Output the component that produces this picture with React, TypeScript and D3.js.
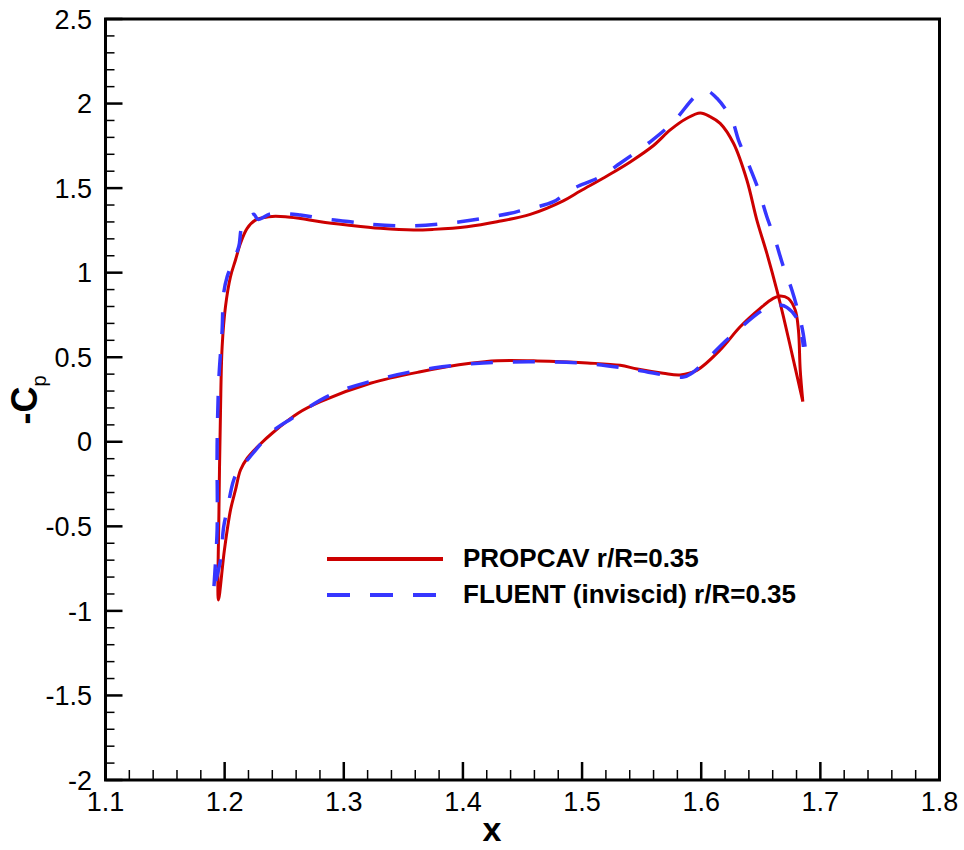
import React from "react";
import * as d3 from "d3";

// Axis ticks
const xTicks = [1.1, 1.2, 1.3, 1.4, 1.5, 1.6, 1.7, 1.8];
const yTicks = [-2, -1.5, -1, -0.5, 0, 0.5, 1, 1.5, 2, 2.5];

// PROPCAV r/R=0.35 (upper: TE -> LE, lower: LE -> TE)
const propcavUpperX = [1.6853, 1.6774, 1.669, 1.6635, 1.6551, 1.6467, 1.6383, 1.6271, 1.6159, 1.6076, 1.5992, 1.588, 1.574, 1.56, 1.5404, 1.5209, 1.4985, 1.4842, 1.4565, 1.4286, 1.4034, 1.3754, 1.3586, 1.3307, 1.3028, 1.2804, 1.2636, 1.251, 1.237, 1.2258, 1.2189, 1.2133, 1.2091, 1.2049, 1.2007, 1.1979, 1.1965, 1.1952, 1.1948];
const propcavUpperY = [0.237, 0.483, 0.74, 0.897, 1.114, 1.311, 1.548, 1.765, 1.883, 1.922, 1.944, 1.913, 1.844, 1.752, 1.655, 1.572, 1.483, 1.425, 1.345, 1.301, 1.272, 1.256, 1.252, 1.262, 1.282, 1.301, 1.32, 1.331, 1.331, 1.311, 1.262, 1.174, 1.075, 0.976, 0.799, 0.562, 0.17, -0.421, -0.936];
const propcavLowerX = [1.1998, 1.2049, 1.2091, 1.2133, 1.2191, 1.23, 1.2401, 1.2619, 1.2804, 1.3223, 1.3643, 1.4062, 1.4289, 1.4624, 1.5044, 1.532, 1.5463, 1.5681, 1.5824, 1.5966, 1.6159, 1.6327, 1.6495, 1.6604, 1.6663, 1.673, 1.6789, 1.6816, 1.6831, 1.6853];
const propcavLowerY = [-0.64, -0.404, -0.285, -0.167, -0.096, -0.013, 0.052, 0.17, 0.237, 0.346, 0.414, 0.464, 0.479, 0.478, 0.466, 0.452, 0.43, 0.405, 0.395, 0.424, 0.543, 0.68, 0.789, 0.848, 0.862, 0.848, 0.779, 0.661, 0.424, 0.237];

// FLUENT (inviscid) r/R=0.35
const fluentUpperX = [1.6872, 1.6845, 1.6761, 1.669, 1.6621, 1.6551, 1.6481, 1.6411, 1.6313, 1.6258, 1.6132, 1.6048, 1.5964, 1.5768, 1.5572, 1.532, 1.5153, 1.4901, 1.4761, 1.4482, 1.4398, 1.3978, 1.3559, 1.3223, 1.3055, 1.2804, 1.2636, 1.2384, 1.228, 1.2244, 1.2147, 1.2118, 1.2021, 1.1992, 1.1979, 1.1951, 1.1937, 1.1937, 1.1909];
const fluentUpperY = [0.562, 0.68, 0.897, 1.035, 1.193, 1.331, 1.489, 1.617, 1.784, 1.903, 2.031, 2.074, 2.051, 1.893, 1.774, 1.647, 1.567, 1.489, 1.42, 1.366, 1.351, 1.301, 1.276, 1.286, 1.301, 1.321, 1.341, 1.347, 1.315, 1.345, 1.272, 1.153, 0.976, 0.878, 0.661, 0.365, -0.029, -0.522, -0.896];
const fluentLowerX = [1.1923, 1.1965, 1.1992, 1.2021, 1.2076, 1.2118, 1.2202, 1.2398, 1.2566, 1.2888, 1.3332, 1.3752, 1.4171, 1.4591, 1.501, 1.543, 1.5849, 1.5924, 1.6243, 1.6565, 1.6663, 1.6719, 1.6803, 1.6845, 1.6858];
const fluentLowerY = [-0.835, -0.699, -0.502, -0.404, -0.226, -0.167, -0.098, 0.059, 0.139, 0.277, 0.377, 0.436, 0.466, 0.473, 0.464, 0.428, 0.383, 0.407, 0.621, 0.799, 0.809, 0.795, 0.73, 0.621, 0.562];

const seriesNames = ["PROPCAV r/R=0.35", "FLUENT (inviscid) r/R=0.35"];
const RED = "#cc0000";
const BLUE = "#3636ff";
const FONT = "'Liberation Sans', Arial, Helvetica, sans-serif";

function pts(xs: number[], ys: number[]): [number, number][] {
  return xs.map((v, i) => [v, ys[i]] as [number, number]);
}

export default function App() {
  const W = 964;
  const H = 850;
  const x = d3.scaleLinear().domain([1.1, 1.8]).range([105.5, 939.5]);
  const y = d3.scaleLinear().domain([-2, 2.5]).range([780, 19]);
  const line = d3
    .line<[number, number]>()
    .x((d) => x(d[0]))
    .y((d) => y(d[1]))
    .curve(d3.curveCatmullRom.alpha(0.5));

  const propcav = [...pts(propcavUpperX, propcavUpperY), ...pts(propcavLowerX, propcavLowerY)];
  const fluent = [...pts(fluentUpperX, fluentUpperY), ...pts(fluentLowerX, fluentLowerY)];

  const xMinor = d3.range(1.1, 1.8001, 0.02).filter((v) => Math.abs(Math.round(v * 10) - v * 10) > 1e-6);
  const yMinor = d3.range(-2, 2.5001, 0.1).filter((v) => Math.abs(Math.round(v * 2) - v * 2) > 1e-6);

  const [x0, x1] = x.range();
  const [yb, yt] = y.range();

  return (
    <svg
      width={W}
      height={H}
      style={{ position: "absolute", left: 0, top: 0, background: "#fff" }}
      fontFamily={FONT}
    >
      <rect x={0} y={0} width={W} height={H} fill="#fff" />
      <defs>
        <clipPath id="plotclip">
          <rect x={x0} y={yt} width={x1 - x0} height={yb - yt} />
        </clipPath>
      </defs>

      {/* curves */}
      <g clipPath="url(#plotclip)">
        <path d={line(propcav) || ""} fill="none" stroke={RED} strokeWidth={3} strokeLinejoin="round" />
        <path d={line(fluent) || ""} fill="none" stroke={BLUE} strokeWidth={3.5} strokeDasharray="22 20" />
      </g>

      {/* ticks */}
      {xTicks.map((t) => (
        <line key={"xt" + t} x1={x(t)} x2={x(t)} y1={yb} y2={yb - 18} stroke="#000" strokeWidth={2.5} />
      ))}
      {xMinor.map((t, i) => (
        <line key={"xm" + i} x1={x(t)} x2={x(t)} y1={yb} y2={yb - 10} stroke="#000" strokeWidth={1.5} />
      ))}
      {yTicks.map((t) => (
        <line key={"yt" + t} x1={x0} x2={x0 + 17} y1={y(t)} y2={y(t)} stroke="#000" strokeWidth={2.5} />
      ))}
      {yMinor.map((t, i) => (
        <line key={"ym" + i} x1={x0} x2={x0 + 9} y1={y(t)} y2={y(t)} stroke="#000" strokeWidth={1.5} />
      ))}

      {/* frame */}
      <rect x={x0} y={yt} width={x1 - x0} height={yb - yt} fill="none" stroke="#000" strokeWidth={3} />

      {/* tick labels */}
      {xTicks.map((t) => (
        <text key={"xl" + t} x={x(t)} y={811} textAnchor="middle" fontSize={27} fill="#000">
          {String(t)}
        </text>
      ))}
      {yTicks.map((t) => (
        <text key={"yl" + t} x={92} y={y(t)} dy="0.36em" textAnchor="end" fontSize={27} fill="#000">
          {String(t)}
        </text>
      ))}

      {/* axis titles */}
      <text x={492} y={841} textAnchor="middle" fontSize={34} fontWeight="bold" fill="#000">
        x
      </text>
      <text transform="translate(37,400) rotate(-90)" textAnchor="middle" fontSize={36} fontWeight="bold" fill="#000">
        -C
        <tspan fontSize={20} fontWeight="normal" dy={9}>p</tspan>
      </text>

      {/* legend */}
      <line x1={327} x2={443} y1={559} y2={559} stroke={RED} strokeWidth={4} />
      <text x={463} y={567} fontSize={26} fontWeight="bold" fill="#000">
        {seriesNames[0]}
      </text>
      <line x1={327} x2={443} y1={595} y2={595} stroke={BLUE} strokeWidth={4} strokeDasharray="23 20" />
      <text x={463} y={603} fontSize={26} fontWeight="bold" fill="#000">
        {seriesNames[1]}
      </text>
    </svg>
  );
}
